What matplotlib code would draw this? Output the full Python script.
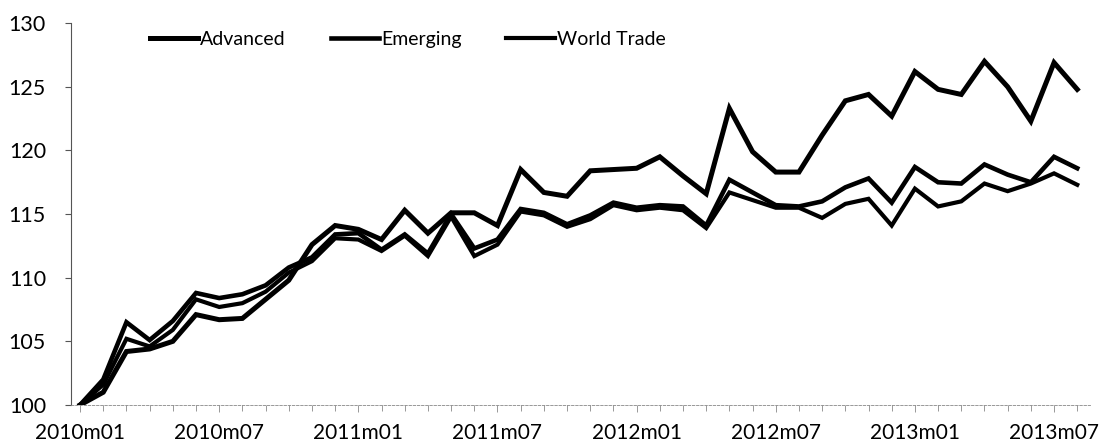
import matplotlib
matplotlib.use("Agg")
import matplotlib.pyplot as plt
from matplotlib.ticker import MultipleLocator

months = [f"{y}m{m:02d}" for y in range(2010, 2014) for m in range(1, 13)][:44]

advanced = [100, 101.0, 104.2, 104.4, 105.0, 107.1, 106.7, 106.8, 108.3, 109.8,
            112.6, 114.1, 113.8, 113.0, 115.3, 113.5, 115.1, 115.1, 114.1, 118.5,
            116.7, 116.4, 118.4, 118.5, 118.6, 119.5, 118.0, 116.6, 123.3, 119.9,
            118.3, 118.3, 121.2, 123.9, 124.4, 122.7, 126.2, 124.8, 124.4, 127.0,
            125.0, 122.3, 126.9, 124.8]
emerging = [100, 102.0, 106.5, 105.1, 106.6, 108.8, 108.4, 108.7, 109.4, 110.8,
            111.6, 113.4, 113.5, 112.2, 113.4, 111.9, 115.0, 112.3, 113.0, 115.4,
            115.1, 114.2, 114.9, 115.9, 115.5, 115.7, 115.6, 114.1, 117.7, 116.7,
            115.7, 115.6, 116.0, 117.1, 117.8, 115.9, 118.7, 117.5, 117.4, 118.9,
            118.1, 117.5, 119.5, 118.6]
world_trade = [100, 101.6, 105.2, 104.6, 105.9, 108.3, 107.7, 108.0, 108.9, 110.4,
               111.3, 113.1, 113.0, 112.1, 113.3, 111.7, 114.8, 111.7, 112.6, 115.2,
               114.9, 114.0, 114.6, 115.7, 115.3, 115.5, 115.3, 113.9, 116.7, 116.1,
               115.5, 115.5, 114.7, 115.8, 116.2, 114.1, 117.0, 115.6, 116.0, 117.4,
               116.8, 117.4, 118.2, 117.3]

series_names = ["Advanced", "Emerging", "World Trade"]
yticks = [100, 105, 110, 115, 120, 125, 130]

plt.rcParams['font.family'] = ['Lato', 'DejaVu Sans']

fig = plt.figure(figsize=(11.01, 4.46), dpi=100)
ax = fig.add_axes([0.0645, 0.092, 0.9255, 0.856])

x = list(range(len(months)))
ax.plot(x, advanced, color="black", lw=3.6, label=series_names[0], solid_joinstyle="miter")
ax.plot(x, emerging, color="black", lw=3.3, label=series_names[1], solid_joinstyle="miter")
ax.plot(x, world_trade, color="black", lw=3.0, label=series_names[2], solid_joinstyle="miter")

ax.set_ylim(100, 130)
ax.set_xlim(-0.39, 43.55)
ax.set_yticks(yticks)
ax.set_yticklabels([str(v) for v in yticks], fontsize=15.5)
ax.set_xticks(x[::6])
ax.set_xticklabels(months[::6], fontsize=15)
ax.xaxis.set_minor_locator(MultipleLocator(1))

for s in ["top", "right"]:
    ax.spines[s].set_visible(False)
ax.spines["left"].set_color("#555555")
ax.spines["left"].set_linewidth(0.8)
ax.spines["left"].set_linestyle((0, (2, 1)))
ax.spines["bottom"].set_color("#888888")
ax.spines["bottom"].set_linewidth(0.6)
ax.spines["bottom"].set_linestyle((0, (3, 2)))

ax.tick_params(axis="y", length=4, width=0.8, color="#555555", pad=14)
ax.tick_params(axis="x", which="major", length=5, width=0.6, color="#888888", pad=8)
ax.tick_params(axis="x", which="minor", length=4, width=0.6, color="#888888")

leg = ax.legend(loc="upper left", bbox_to_anchor=(0.06, 1.025), ncol=3, frameon=False,
                fontsize=14, handlelength=2.5, handletextpad=0.1, columnspacing=2.3)

fig.savefig("out.png", dpi=100)
